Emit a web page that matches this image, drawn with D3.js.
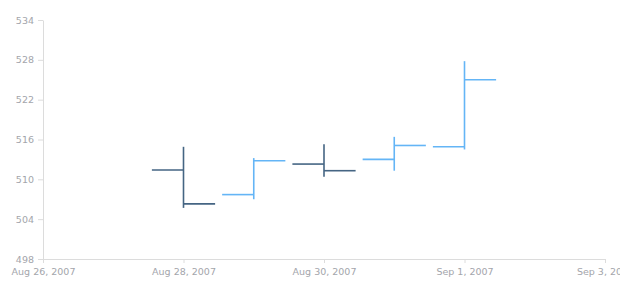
<!DOCTYPE html>
<html>
<head>
<meta charset="utf-8">
<script src="https://cdn.jsdelivr.net/npm/d3@7"></script>
<style>
  body { margin: 0; background: #fff; }
  svg { display: block; }
  .tick text { font-family: "DejaVu Sans", Verdana, sans-serif; }
</style>
</head>
<body>
<div id="chart"></div>
<script>
// OHLC data
const dates = ['2007-08-28', '2007-08-29', '2007-08-30', '2007-08-31', '2007-09-01'];
const openVals = [511.4, 507.7, 512.3, 513.0, 514.9];
const highVals = [514.9, 513.2, 515.3, 516.4, 527.8];
const lowVals = [505.7, 507.0, 510.4, 511.3, 514.5];
const closeVals = [506.3, 512.8, 511.3, 515.1, 525.0];

const yTicks = [498, 504, 510, 516, 522, 528, 534];
const xTicks = ['2007-08-26', '2007-08-28', '2007-08-30', '2007-09-01', '2007-09-03'];

const parse = d3.timeParse('%Y-%m-%d');
const data = dates.map((d, i) => ({
  date: parse(d), open: openVals[i], high: highVals[i], low: lowVals[i], close: closeVals[i]
}));

var margin = { top: 20, right: 15, bottom: 41, left: 43 },
  width = 620 - margin.left - margin.right,
  height = 300 - margin.top - margin.bottom;

var svg = d3.select('#chart')
  .append('svg')
  .attr('width', 620)
  .attr('height', 300)
  .append('g')
  .attr('transform', 'translate(' + margin.left + ',' + margin.top + ')');

var x = d3.scaleTime()
  .domain([parse(xTicks[0]), parse(xTicks[xTicks.length - 1])])
  .range([0, width]);

var y = d3.scaleLinear()
  .domain([498, 534])
  .range([height, 0]);

const axisColor = '#dcdcdc';
const textColor = '#a3a5ab';

// x axis
var xAxis = svg.append('g')
  .attr('transform', 'translate(0,' + height + ')')
  .call(d3.axisBottom(x)
    .tickValues(xTicks.map(parse))
    .tickSizeInner(4)
    .tickSizeOuter(0)
    .tickPadding(5)
    .tickFormat(d3.timeFormat('%b %-d, %Y')));
xAxis.select('.domain').attr('stroke', axisColor);
xAxis.selectAll('line').attr('stroke', axisColor);
xAxis.selectAll('text').attr('fill', textColor).style('font-size', '9.5px');

// y axis
var yAxis = svg.append('g')
  .call(d3.axisLeft(y)
    .tickValues(yTicks)
    .tickSizeInner(5)
    .tickSizeOuter(0)
    .tickPadding(4));
yAxis.select('.domain').attr('stroke', axisColor);
yAxis.selectAll('line').attr('stroke', axisColor);
yAxis.selectAll('text').attr('fill', textColor).style('font-size', '9.5px');

const rising = '#64b5f6';
const falling = '#456583';
const dayW = x(parse('2007-08-29')) - x(parse('2007-08-28'));
const tickW = dayW * 0.45;

var bars = svg.append('g')
  .selectAll('g')
  .data(data)
  .enter()
  .append('g')
  .attr('stroke', d => d.close >= d.open ? rising : falling)
  .attr('stroke-width', 1.6)
  .attr('fill', 'none');

bars.append('line')
  .attr('x1', d => x(d.date)).attr('x2', d => x(d.date))
  .attr('y1', d => y(d.high)).attr('y2', d => y(d.low));

bars.append('line')
  .attr('x1', d => x(d.date) - tickW).attr('x2', d => x(d.date))
  .attr('y1', d => y(d.open)).attr('y2', d => y(d.open));

bars.append('line')
  .attr('x1', d => x(d.date)).attr('x2', d => x(d.date) + tickW)
  .attr('y1', d => y(d.close)).attr('y2', d => y(d.close));
</script>
</body>
</html>
